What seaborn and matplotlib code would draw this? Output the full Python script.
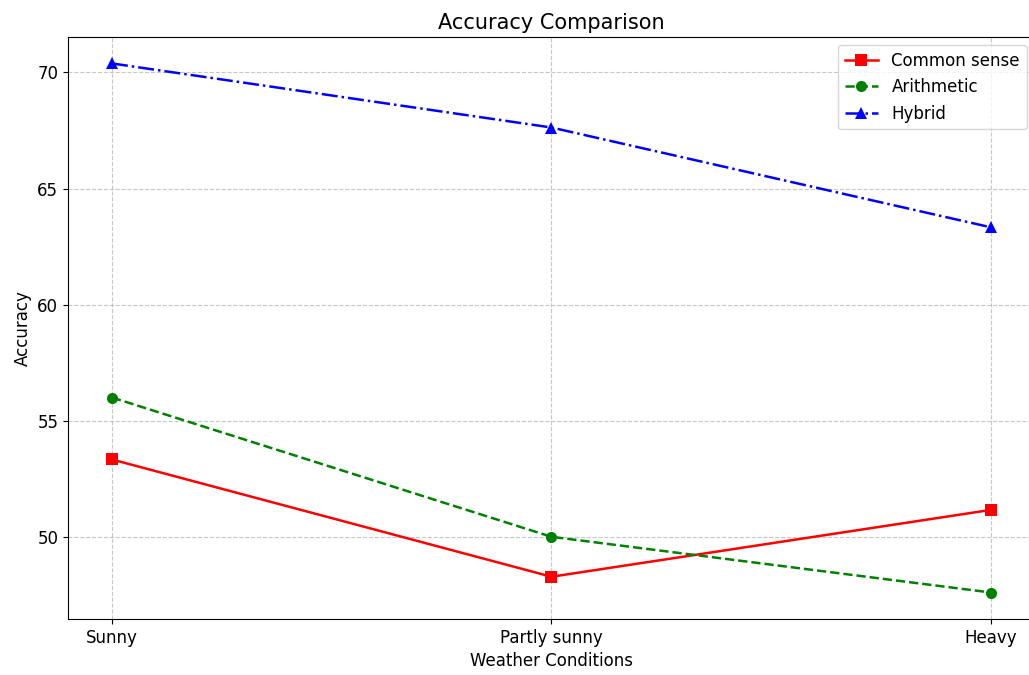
import matplotlib
matplotlib.use("Agg")
import matplotlib.pyplot as plt
import pandas as pd
import seaborn as sns

conditions = ["Sunny", "Partly sunny", "Heavy"]
common_sense = [53.33, 48.28, 51.16]
arithmetic = [56.0, 50.0, 47.6]
hybrid = [70.39, 67.63, 63.33]

series = [
    ("Common sense", common_sense, "red", "-", "s"),
    ("Arithmetic", arithmetic, "green", "--", "o"),
    ("Hybrid", hybrid, "blue", "-.", "^"),
]

fig = plt.figure(figsize=(10.29, 6.75), dpi=100)
ax = fig.add_axes([0.0661, 0.083, 0.9397, 0.8622])

for name, values, color, ls, marker in series:
    frame = pd.DataFrame({"condition": conditions, "accuracy": values})
    sns.lineplot(
        data=frame, x="condition", y="accuracy", ax=ax, color=color,
        linestyle=ls, marker=marker, markersize=8, linewidth=1.8,
        markeredgewidth=0, label=name, sort=False,
    )

ax.set_title("Accuracy Comparison", fontsize=15)
ax.set_xlabel("Weather Conditions", fontsize=12)
ax.set_ylabel("Accuracy", fontsize=12)
ax.tick_params(labelsize=12)
ax.grid(True, linestyle="--", alpha=0.7)
ax.legend(loc="upper right", fontsize=12)

fig.savefig("out.png", dpi=100)
